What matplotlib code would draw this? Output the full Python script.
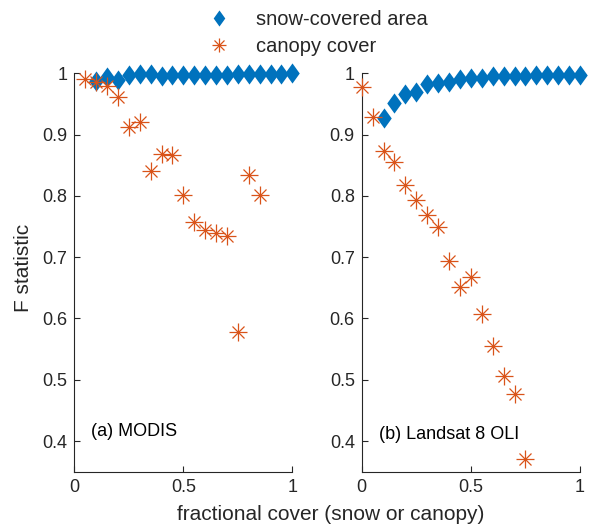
import matplotlib
matplotlib.use("Agg")
import matplotlib.pyplot as plt
from matplotlib.path import Path
from matplotlib.legend_handler import HandlerTuple
import numpy as np

plt.rcParams['font.family'] = ['Liberation Sans', 'DejaVu Sans']

# ---- data ----
modis_snow_x = [0.10, 0.15, 0.20, 0.25, 0.30, 0.35, 0.40, 0.45, 0.50, 0.55,
                0.60, 0.65, 0.70, 0.75, 0.80, 0.85, 0.90, 0.95, 1.00]
modis_snow_f = [0.988, 0.994, 0.989, 0.997, 0.999, 0.999, 0.995, 0.997, 0.998, 0.998,
                0.998, 0.998, 0.998, 0.999, 0.999, 0.999, 0.999, 0.999, 1.000]
modis_canopy_x = [0.05, 0.10, 0.15, 0.20, 0.25, 0.30, 0.35, 0.40, 0.45, 0.50,
                  0.55, 0.60, 0.65, 0.70, 0.75, 0.80, 0.85]
modis_canopy_f = [0.991, 0.986, 0.979, 0.961, 0.913, 0.921, 0.841, 0.869, 0.866, 0.802,
                  0.757, 0.745, 0.739, 0.735, 0.578, 0.834, 0.801]

oli_snow_x = [0.10, 0.15, 0.20, 0.25, 0.30, 0.35, 0.40, 0.45, 0.50, 0.55,
              0.60, 0.65, 0.70, 0.75, 0.80, 0.85, 0.90, 0.95, 1.00]
oli_snow_f = [0.927, 0.952, 0.966, 0.969, 0.983, 0.984, 0.985, 0.990, 0.993, 0.993,
              0.995, 0.995, 0.996, 0.996, 0.997, 0.997, 0.997, 0.997, 0.997]
oli_canopy_x = [0.00, 0.05, 0.10, 0.15, 0.20, 0.25, 0.30, 0.35, 0.40, 0.45,
                0.50, 0.55, 0.60, 0.65, 0.70, 0.75]
oli_canopy_f = [0.978, 0.929, 0.874, 0.855, 0.817, 0.793, 0.768, 0.749, 0.694, 0.651,
                0.667, 0.607, 0.555, 0.506, 0.477, 0.371]

panel_labels = ['(a) MODIS', '(b) Landsat 8 OLI']
legend_labels = ['snow-covered area', 'canopy cover']
x_ticks = [0, 0.5, 1]
x_tick_labels = ['0', '0.5', '1']
y_ticks = [0.4, 0.5, 0.6, 0.7, 0.8, 0.9, 1.0]
y_tick_labels = ['0.4', '0.5', '0.6', '0.7', '0.8', '0.9', '1']

BLUE = '#0072BD'
ORANGE = '#D95319'
AXC = '#262626'

diamond = Path([(0, 1), (0.72, 0), (0, -1), (-0.72, 0), (0, 1)],
               [Path.MOVETO, Path.LINETO, Path.LINETO, Path.LINETO, Path.CLOSEPOLY])

fig = plt.figure(figsize=(5.9, 5.26), dpi=100)
W, H = 590, 526
ax1 = fig.add_axes([74.3 / W, 1 - 471.7 / H, 218 / W, (471.7 - 73.3) / H])
ax2 = fig.add_axes([361.7 / W, 1 - 471.7 / H, 218.3 / W, (471.7 - 73.3) / H])

handles = None
for ax, sx, sf, cx, cf, lab, lx, ly in [
        (ax1, modis_snow_x, modis_snow_f, modis_canopy_x, modis_canopy_f, panel_labels[0], 0.075, 0.416),
        (ax2, oli_snow_x, oli_snow_f, oli_canopy_x, oli_canopy_f, panel_labels[1], 0.08, 0.411)]:
    hd, = ax.plot(sx, sf, linestyle='none', marker=diamond, markersize=14.5,
                  color=BLUE, markeredgewidth=0, clip_on=False, zorder=3)
    hp, = ax.plot(cx, cf, linestyle='none', marker='+', markersize=13,
                  color=ORANGE, markeredgewidth=0.9, clip_on=False, zorder=4)
    hx, = ax.plot(cx, cf, linestyle='none', marker='x', markersize=9,
                  color=ORANGE, markeredgewidth=0.9, clip_on=False, zorder=4)
    hc, = ax.plot(cx, cf, linestyle='none', marker='o', markersize=2,
                  color=ORANGE, markeredgewidth=0, clip_on=False, zorder=4)
    ax.set_xlim(0, 1)
    ax.set_ylim(0.35, 1.0)
    ax.set_xticks(x_ticks)
    ax.set_xticklabels(x_tick_labels)
    ax.set_yticks(y_ticks)
    ax.set_yticklabels(y_tick_labels)
    for s in ['top', 'right']:
        ax.spines[s].set_visible(False)
    for s in ['left', 'bottom']:
        ax.spines[s].set_color(AXC)
        ax.spines[s].set_linewidth(0.8)
    ax.tick_params(direction='in', length=4, width=0.8, color=AXC,
                   labelcolor=AXC, labelsize=13, pad=5)
    ax.text(lx, ly, lab, fontsize=13, color='black', va='center', ha='left')
    if handles is None:
        handles = [hd, (hp, hx)]

fig.text(331 / W, 1 - 515 / H, 'fractional cover (snow or canopy)', fontsize=15,
         color=AXC, ha='center', va='center')
fig.text(24 / W, 1 - 268 / H, 'F statistic', fontsize=15, color=AXC,
         ha='center', va='center', rotation=90)

leg = fig.legend(handles, legend_labels, loc='upper left',
                 bbox_to_anchor=(191 / W, 1 + 8 / H), frameon=False,
                 fontsize=14.5, handlelength=1.0, handletextpad=1.35,
                 labelspacing=0.4, markerscale=0.8, numpoints=1,
                 handler_map={tuple: HandlerTuple(ndivide=1)})
for t in leg.get_texts():
    t.set_color(AXC)

fig.savefig('out.png', dpi=100)
